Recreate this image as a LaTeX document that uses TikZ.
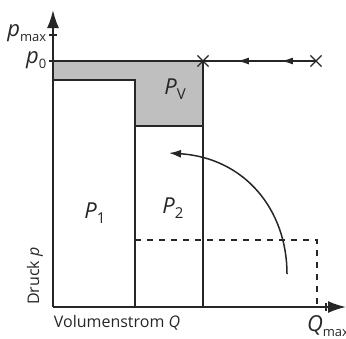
\documentclass[tikz,border=0pt]{standalone}
\usepackage{fontspec}
\setmainfont{Open Sans}
\usetikzlibrary{arrows.meta,positioning,calc,shapes.misc,decorations.markings}

\newcommand{\var}[2]{\textit{#1}\raisebox{-0.45ex}{#2}}

\begin{document}
\begin{tikzpicture}[x=0.5pt, y=-0.5pt, font=\fontsize{8}{9}\selectfont,
    line width=0.75pt, draw=black!85, text=black!85,
    big/.style={font=\fontsize{11}{11}\selectfont},
    cross/.style={draw, cross out, minimum size=5pt, inner sep=0pt, line width=0.6pt},
    flowline/.style={postaction={decorate}, decoration={markings,
        mark=at position 0.31 with {\arrow{Latex[length=6pt,width=3.5pt]}},
        mark=at position 0.70 with {\arrow{Latex[length=6pt,width=3.5pt]}}}}]
  \useasboundingbox (0,0) rectangle (346,338);
  % Verlustleistung
  \fill[black!25] (53,61) -- (203,61) -- (203,126) -- (135,126) -- (135,80) -- (53,80) -- cycle;
  \draw (53,80) -- (135,80) -- (135,307);
  \draw (135,126) -- (203,126);
  \draw (53,61) -- (203,61) -- (203,307);
  % Teillast
  \draw[dashed, line width=0.6pt] (135,240) -- (317,240) -- (317,307);
  % Achsen
  \coordinate (O) at (53,307);
  \draw[-{Latex[length=9pt,width=6pt]}, line width=0.9pt] (O) -- (53,10);
  \draw[-{Latex[length=9pt,width=6pt]}, line width=0.9pt] (O) -- (346,307);
  \draw (49,35) -- (57,35);
  \draw (49,61) -- (57,61);
  \draw (326,303) -- (326,311);
  \node[anchor=east, inner sep=1pt, big] (pmax) at (49,33) {\var{p}{\fontsize{6.5}{6.5}\selectfont max}};
  \node[anchor=east, inner sep=1pt, big] (p0) at (49,60) {\var{p}{\fontsize{6.5}{6.5}\selectfont 0}};
  \node[rotate=90] (druck) at (35,276) {Druck \textit{p}};
  \node (vol) at (117,323) {Volumenstrom \textit{Q}};
  \node[big] (qmax) at (328,326) {\var{Q}{\fontsize{6.5}{6.5}\selectfont max}};
  % Flaechen
  \node[big] (PV) at (175,89) {\var{P}{\fontsize{7.5}{7.5}\selectfont V}};
  \node[big] (P1) at (95,213) {\var{P}{\fontsize{7.5}{7.5}\selectfont 1}};
  \node[big] (P2) at (173,208) {\var{P}{\fontsize{7.5}{7.5}\selectfont 2}};
  % Drosselung
  \node[cross] (x1) at (203,61) {};
  \node[cross] (x2) at (316,61) {};
  \draw[flowline] (x2.center) -- (x1.center);
  \coordinate (a0) at (287,274);
  \coordinate (a1) at (169,153);
  \draw[-{Latex[length=6pt,width=4pt]}] (a0) .. controls (287,210) and (245,158) .. (a1);
\end{tikzpicture}
\end{document}
